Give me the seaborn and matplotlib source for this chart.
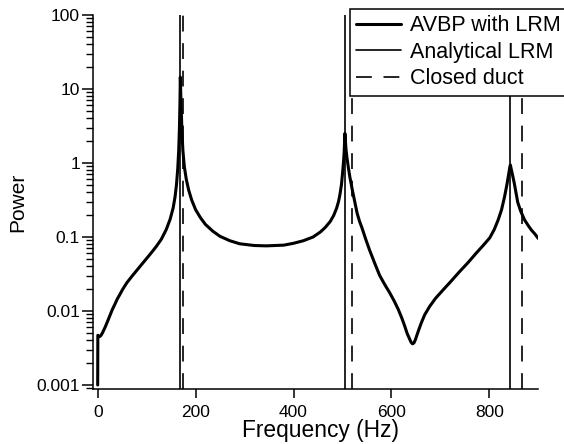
import matplotlib
matplotlib.use("Agg")
import matplotlib.pyplot as plt
import matplotlib.ticker as mticker
import seaborn as sns

# AVBP with LRM spectrum
freq = [0, 0.3, 4, 7, 10, 15, 20, 25, 30, 35, 40, 45, 50, 55, 60, 70, 80, 90, 100, 110,
        120, 130, 140, 148, 154, 158, 161, 163.5, 165.5, 167, 168, 168.8,
        170, 172, 174, 177, 181, 186, 192, 200, 210, 220, 235, 250, 270, 290, 320, 345,
        380, 400, 420, 440, 455, 465, 475, 482, 488, 492, 495, 498, 500, 502, 503.5, 505,
        507, 509, 512, 515, 520, 525, 530, 535, 540, 547, 555, 565, 576, 587, 597, 606,
        614, 621, 627, 632, 637, 640, 643, 646, 649, 652, 656, 661, 668, 678, 690, 705,
        720, 739, 756, 773, 788, 801, 810, 818, 825, 831, 836, 839.5, 842, 843,
        845, 848, 851, 855, 858, 864, 872, 880, 886, 893, 900]
power = [0.001, 0.0047, 0.0045, 0.0047, 0.0051, 0.0060, 0.0072, 0.0087, 0.0105, 0.0123,
         0.0145, 0.0166, 0.0191, 0.0216, 0.0243, 0.0295, 0.0355, 0.0427, 0.0513, 0.0617,
         0.075, 0.0933, 0.126, 0.174, 0.245, 0.347, 0.513, 0.832, 1.48, 3.02, 6.31, 14.5,
         7.08, 2.82, 1.48, 0.89, 0.60, 0.427, 0.316, 0.234, 0.182, 0.148, 0.120, 0.102,
         0.089, 0.081, 0.0767, 0.0759,
         0.0776, 0.0822, 0.089, 0.1, 0.117, 0.135, 0.162, 0.195, 0.245, 0.302, 0.38, 0.513,
         0.708, 1.0, 1.41, 2.51,
         1.58, 1.2, 0.87, 0.653, 0.437, 0.302, 0.209, 0.162, 0.132, 0.0955, 0.0676, 0.0457,
         0.0302, 0.0224, 0.0174, 0.0135,
         0.0105, 0.0081, 0.0063, 0.0050, 0.0042, 0.0038, 0.0036, 0.0037, 0.0041, 0.0047,
         0.0056, 0.0069, 0.0089, 0.0115, 0.0148, 0.0191,
         0.0245, 0.0339, 0.0447, 0.0603, 0.0776, 0.0977, 0.126, 0.17, 0.234, 0.347, 0.513,
         0.708, 0.891, 0.94,
         0.813, 0.661, 0.531, 0.38, 0.295, 0.224, 0.17, 0.141, 0.124, 0.11, 0.0955]

analytical_modes = [168, 506, 843]
closed_duct_modes = [174, 520, 867]

x_ticks = [0, 200, 400, 600, 800]
y_ticks = [0.001, 0.01, 0.1, 1, 10, 100]
y_ticklabels = ["0.001", "0.01", "0.1", "1", "10", "100"]

sns.set_theme(style="ticks")
plt.rcParams["font.family"] = ["Liberation Sans", "DejaVu Sans"]

fig = plt.figure(figsize=(5.64, 4.44), dpi=100)
ax = fig.add_axes([0.1654, 0.1239, 0.789, 0.8423])
ax.set_yscale("log")

sns.lineplot(x=freq, y=power, ax=ax, color="black", linewidth=2.2,
             estimator=None, sort=False, label="AVBP with LRM")

for i, f in enumerate(analytical_modes):
    ax.axvline(f, color="black", linewidth=1.2,
               label="Analytical LRM" if i == 0 else None)
for i, f in enumerate(closed_duct_modes):
    ax.axvline(f, color="black", linewidth=1.2, dashes=(9.5, 7),
               label="Closed duct" if i == 0 else None)

ax.set_xlim(-9, 900)
ax.set_ylim(0.000883, 100)
ax.set_xticks(x_ticks)
ax.set_yticks(y_ticks)
ax.set_yticklabels(y_ticklabels)
ax.yaxis.set_minor_locator(mticker.LogLocator(base=10, subs=range(2, 10)))
ax.yaxis.set_minor_formatter(mticker.NullFormatter())

for side in ["top", "right"]:
    ax.spines[side].set_visible(False)
for side in ["left", "bottom"]:
    ax.spines[side].set_linewidth(1.1)
    ax.spines[side].set_color("black")

ax.tick_params(axis="x", which="major", length=6.5, width=1.1, color="black",
               labelsize=12.5, pad=5, labelcolor="black")
ax.tick_params(axis="y", which="major", length=8, width=1.1, color="black",
               labelsize=12.5, pad=1.5, labelcolor="black")
ax.tick_params(axis="y", which="minor", length=5, width=1.0, color="black")

ax.set_xlabel("Frequency (Hz)", fontsize=16.4, color="black", va="bottom")
ax.set_ylabel("Power", fontsize=15, color="black")
ax.xaxis.set_label_coords(0.51, -0.1417)
ax.yaxis.set_label_coords(-0.149, 0.5)

leg = ax.legend(loc="upper left", bbox_to_anchor=(350 / 564, 1 - 9 / 444),
                bbox_transform=fig.transFigure, fontsize=15.5, frameon=True,
                fancybox=False, framealpha=1, edgecolor="black", borderaxespad=0,
                borderpad=0.3, labelspacing=0.25, handlelength=2.05,
                handletextpad=0.45)
leg.get_frame().set_linewidth(1.1)
for txt in leg.get_texts():
    txt.set_color("black")

fig.savefig("out.png", dpi=100)
